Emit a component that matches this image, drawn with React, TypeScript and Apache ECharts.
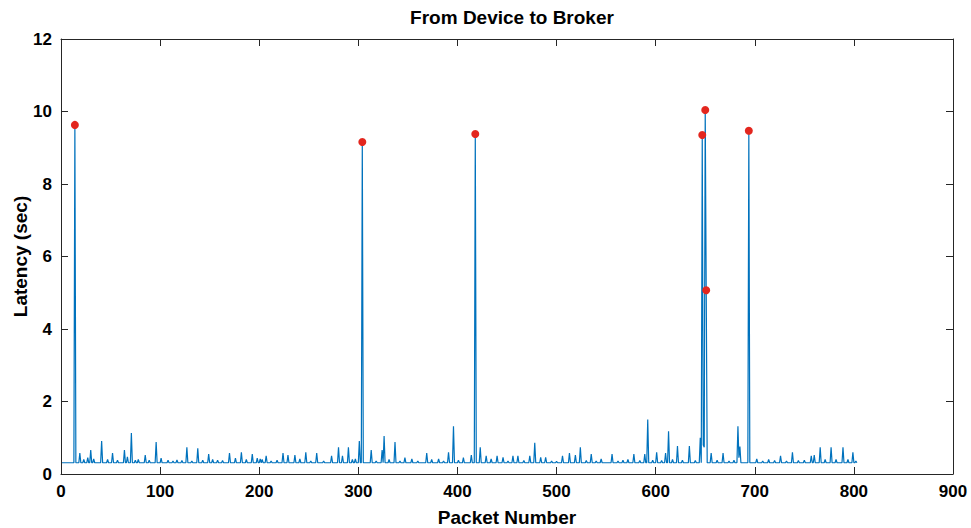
import React, { useEffect, useRef } from "react";
import * as echarts from "echarts";

// Packets are numbered 1..LAST_PACKET; most sit near the baseline latency.
const LAST_PACKET = 803;
const BASE_LATENCY = 0.31;

// Packets whose latency departs from the baseline.
const bumpPackets = [
  14, 19, 23, 27, 30, 33, 41, 47, 52, 57, 64, 67, 71, 75, 78, 85, 89, 96, 101,
  108, 113, 117, 122, 127, 132, 138, 143, 149, 153, 158, 163, 170, 176, 182, 187, 193, 198, 201, 203, 207,
  212, 218, 224, 229, 236, 241, 247, 252, 258, 265, 273, 280, 284, 290, 294, 297, 301, 304, 313,
  318, 324, 326, 331, 337, 342, 347, 354, 360, 369, 374, 381, 386, 391, 396, 401, 406, 414, 418,
  423, 429, 434, 440, 446, 451, 456, 461, 467, 473, 478, 484, 489, 495, 500, 506, 513, 519, 524,
  530, 535, 540, 545, 556, 562, 567, 572, 578, 584, 589, 592, 597, 601, 606, 610, 613, 617, 622, 627, 634,
  640, 645, 647, 648, 649, 650, 651, 656, 662, 668, 674, 679, 683, 684, 685, 694,
  702, 708, 714, 720, 726, 732, 738, 744, 750, 757, 760, 766, 771, 777, 782, 789, 794, 799, 802,
];
const bumpLatency = [
  9.63, 0.58, 0.4, 0.45, 0.66, 0.42, 0.91, 0.4, 0.58, 0.38, 0.66, 0.47, 1.13, 0.38, 0.4, 0.52, 0.38, 0.88, 0.44,
  0.38, 0.36, 0.39, 0.37, 0.74, 0.36, 0.71, 0.38, 0.55, 0.4, 0.38, 0.37, 0.58, 0.44, 0.6, 0.4, 0.55, 0.44, 0.42, 0.4, 0.5,
  0.36, 0.38, 0.58, 0.52, 0.52, 0.42, 0.6, 0.36, 0.58, 0.36, 0.5, 0.74, 0.5, 0.74, 0.4, 0.42, 0.91, 9.16, 0.66,
  0.36, 0.66, 1.05, 0.4, 0.88, 0.36, 0.45, 0.42, 0.36, 0.58, 0.4, 0.42, 0.36, 0.6, 1.32, 0.38, 0.45, 0.52, 9.38,
  0.74, 0.5, 0.42, 0.5, 0.46, 0.36, 0.5, 0.5, 0.37, 0.5, 0.86, 0.46, 0.46, 0.36, 0.35, 0.5, 0.58, 0.52, 0.74,
  0.37, 0.55, 0.36, 0.42, 0.55, 0.36, 0.38, 0.4, 0.55, 0.37, 0.55, 1.5, 0.38, 0.6, 0.37, 0.58, 1.18, 0.4, 0.77, 0.38, 0.77,
  0.37, 1.0, 9.35, 0.8, 0.74, 10.04, 5.07, 0.58, 0.38, 0.58, 0.36, 0.38, 1.32, 0.45, 0.76, 9.47,
  0.42, 0.36, 0.4, 0.37, 0.5, 0.36, 0.6, 0.37, 0.38, 0.5, 0.52, 0.74, 0.4, 0.74, 0.4, 0.74, 0.4, 0.6, 0.36,
];

// Outlier packets marked in red.
const outlierPackets = [14, 304, 418, 647, 650, 651, 694];
const outlierLatency = [9.63, 9.16, 9.38, 9.35, 10.04, 5.07, 9.47];

const xTicks = { min: 0, max: 900, interval: 100 };
const yTicks = { min: 0, max: 12, interval: 2 };

const FONT = "Liberation Sans, Arial, Helvetica, sans-serif";
const AXIS_COLOR = "#262626";

export default function App() {
  const ref = useRef<HTMLDivElement>(null);

  useEffect(() => {
    if (!ref.current) return;
    const chart = echarts.init(ref.current, undefined, { renderer: "svg" });

    const bumpMap = new Map<number, number>();
    bumpPackets.forEach((p, i) => bumpMap.set(p, bumpLatency[i]));
    const lineData: number[][] = [];
    for (let p = 1; p <= LAST_PACKET; p++) {
      lineData.push([p, bumpMap.has(p) ? (bumpMap.get(p) as number) : BASE_LATENCY]);
    }
    const dotData = outlierPackets.map((p, i) => [p, outlierLatency[i]]);

    const tickLabel = {
      color: "#000",
      fontFamily: FONT,
      fontWeight: "bold" as const,
      fontSize: 17,
    };
    const axisLine = { show: true, onZero: false, lineStyle: { color: AXIS_COLOR, width: 1 } };
    const axisTick = { show: true, inside: true, length: 7, lineStyle: { color: AXIS_COLOR, width: 1 } };

    chart.setOption({
      animation: false,
      backgroundColor: "#fff",
      title: {
        text: "From Device to Broker",
        left: 507,
        top: 3,
        textAlign: "center",
        textStyle: { fontFamily: FONT, fontWeight: "bold", fontSize: 19, color: "#000" },
      },
      grid: {
        left: 61,
        right: 18,
        top: 39,
        bottom: 54,
        containLabel: false,
        outerBoundsMode: "none",
      },
      xAxis: [
        {
          type: "value",
          position: "bottom",
          ...xTicks,
          name: "Packet Number",
          nameLocation: "middle",
          nameGap: 34,
          nameMoveOverlap: false,
          nameTextStyle: { fontFamily: FONT, fontWeight: "bold", fontSize: 19, color: "#000" },
          axisLine,
          axisTick,
          axisLabel: { ...tickLabel, margin: 9 },
          splitLine: { show: false },
        },
        {
          type: "value",
          position: "top",
          ...xTicks,
          axisLine,
          axisTick,
          axisLabel: { show: false },
          splitLine: { show: false },
        },
      ],
      yAxis: [
        {
          type: "value",
          position: "left",
          ...yTicks,
          name: "Latency (sec)",
          nameLocation: "middle",
          nameGap: 31,
          nameMoveOverlap: false,
          nameTextStyle: { fontFamily: FONT, fontWeight: "bold", fontSize: 19, color: "#000" },
          axisLine,
          axisTick,
          axisLabel: { ...tickLabel, margin: 9 },
          splitLine: { show: false },
        },
        {
          type: "value",
          position: "right",
          ...yTicks,
          axisLine,
          axisTick,
          axisLabel: { show: false },
          splitLine: { show: false },
        },
      ],
      series: [
        {
          type: "line",
          data: lineData,
          showSymbol: false,
          symbol: "none",
          lineStyle: { color: "#0072BD", width: 1.2 },
          z: 2,
        },
        {
          type: "scatter",
          data: dotData,
          symbol: "circle",
          symbolSize: 8,
          itemStyle: { color: "#E3261E", opacity: 1 },
          z: 3,
        },
      ],
    });

    return () => chart.dispose();
  }, []);

  return (
    <div
      ref={ref}
      style={{ position: "fixed", left: 0, top: 0, width: 971, height: 528 }}
    />
  );
}
